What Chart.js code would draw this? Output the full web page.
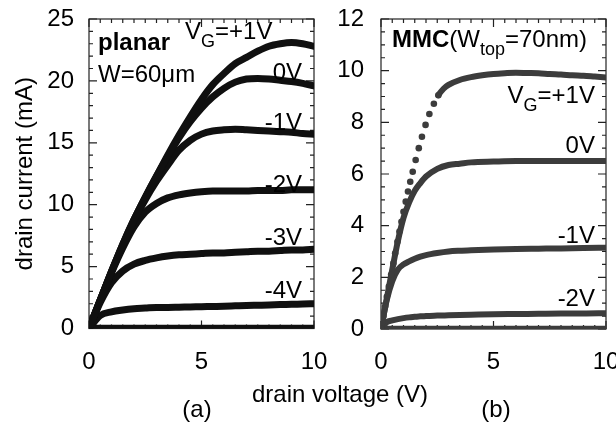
<!DOCTYPE html>
<html lang="en">
<head>
<meta charset="UTF-8">
<title>Drain current vs drain voltage</title>
<script src="https://cdn.jsdelivr.net/npm/chart.js"></script>
<style>
  body { margin: 0; background: #fff; }
  #wrap { position: relative; width: 616px; height: 426px; }
  canvas { position: absolute; left: 0; top: 0; }
</style>
</head>
<body>
<div id="wrap">
  <canvas id="chartA" width="616" height="426"></canvas>
  <canvas id="chartB" width="616" height="426"></canvas>
</div>
<script>
// (a) planar device, W = 60 um
const vA = [0, 0.5, 1, 1.5, 2, 2.5, 3, 3.5, 4, 4.5, 5, 5.5, 6, 6.5, 7, 7.5, 8, 8.5, 9, 9.5, 10];
const iA_p1 = [0, 2.3, 4.6, 6.8, 8.8, 10.6, 12.3, 14.0, 15.6, 17.1, 18.5, 19.7, 20.6, 21.4, 21.9, 22.4, 22.8, 23.0, 23.1, 23.0, 22.8];
const iA_0  = [0, 2.3, 4.6, 6.8, 8.8, 10.6, 12.3, 13.9, 15.4, 16.7, 17.8, 18.7, 19.4, 19.9, 20.15, 20.2, 20.15, 20.05, 19.95, 19.8, 19.6];
const iA_m1 = [0, 2.3, 4.6, 6.7, 8.7, 10.4, 11.9, 13.2, 14.4, 15.2, 15.7, 15.95, 16.05, 16.1, 16.05, 16.0, 15.95, 15.9, 15.85, 15.75, 15.7];
const iA_m2 = [0, 2.3, 4.5, 6.5, 8.2, 9.4, 10.1, 10.55, 10.8, 10.95, 11.05, 11.1, 11.1, 11.1, 11.1, 11.15, 11.15, 11.15, 11.2, 11.2, 11.2];
const iA_m3 = [0, 2.1, 3.7, 4.65, 5.2, 5.5, 5.7, 5.85, 5.95, 6.0, 6.05, 6.1, 6.1, 6.15, 6.2, 6.25, 6.25, 6.3, 6.35, 6.35, 6.4];
const iA_m4 = [0, 1.05, 1.35, 1.5, 1.6, 1.65, 1.7, 1.7, 1.72, 1.74, 1.76, 1.78, 1.8, 1.83, 1.86, 1.88, 1.9, 1.93, 1.95, 1.98, 2.0];
const iA_off = [0, 0, 0, 0, 0, 0, 0, 0, 0, 0, 0, 0, 0, 0, 0, 0, 0, 0, 0, 0, 0];

// (b) MMC device, W_top = 70 nm
const vB_p1 = [0, 0.1, 0.18, 0.26, 0.35, 0.45, 0.55, 0.63, 0.73, 0.82, 0.91, 1.0, 1.1, 1.2, 1.3, 1.41, 1.54, 1.68, 1.82, 1.98,
               2.15, 2.35, 2.55, 2.78, 3.0, 3.5, 4, 4.5, 5, 5.5, 6, 6.5, 7, 7.5, 8, 8.5, 9, 9.5, 10];
const iB_p1 = [0, 0.48, 0.86, 1.25, 1.64, 2.1, 2.54, 2.93, 3.38, 3.77, 4.15, 4.54, 4.93, 5.32, 5.7, 6.09, 6.54, 7.0, 7.44, 7.9,
               8.32, 8.72, 9.05, 9.3, 9.45, 9.64, 9.75, 9.82, 9.87, 9.9, 9.92, 9.91, 9.9, 9.87, 9.85, 9.82, 9.8, 9.77, 9.74];
const vB = [0, 0.25, 0.5, 0.75, 1, 1.25, 1.5, 1.75, 2, 2.5, 3, 3.5, 4, 5, 6, 7, 8, 9, 10];
const iB_0  = [0, 1.15, 2.3, 3.4, 4.3, 4.9, 5.35, 5.65, 5.9, 6.2, 6.35, 6.4, 6.45, 6.48, 6.5, 6.5, 6.5, 6.5, 6.5];
const iB_m1 = [0, 1.1, 1.85, 2.3, 2.5, 2.62, 2.72, 2.8, 2.86, 2.94, 3.0, 3.03, 3.05, 3.08, 3.1, 3.11, 3.12, 3.14, 3.15];
const iB_m2 = [0, 0.26, 0.33, 0.38, 0.42, 0.45, 0.47, 0.49, 0.5, 0.52, 0.53, 0.54, 0.55, 0.57, 0.58, 0.59, 0.6, 0.6, 0.61];
const iB_off = [0, 0, 0, 0, 0, 0, 0, 0, 0, 0, 0, 0, 0, 0, 0, 0, 0, 0, 0];

const FONT = "'Liberation Sans', Arial, sans-serif";
const INK_A = '#101010';
const INK_B = '#3c3c3c';
const SUB_DROP = 8;

Chart.defaults.font.family = FONT;
Chart.defaults.color = '#000';

function pts(xs, ys) {
  return xs.map((x, i) => ({ x: x, y: ys[i] }));
}

function curve(xs, ys, color, width) {
  return {
    data: pts(xs, ys),
    borderColor: color,
    borderWidth: width,
    pointRadius: 0,
    cubicInterpolationMode: 'monotone',
    borderCapStyle: 'round'
  };
}

// frame box with inward ticks on all four sides
const frameTicks = {
  id: 'frameTicks',
  beforeDatasetsDraw(chart, args, opts) {
    const { ctx, chartArea: a, scales: { x, y } } = chart;
    const isMajor = (v, step) => Math.abs(v / step - Math.round(v / step)) < 1e-6;
    ctx.save();
    ctx.strokeStyle = '#222';
    ctx.lineWidth = 1.2;
    ctx.strokeRect(a.left, a.top, a.right - a.left, a.bottom - a.top);
    ctx.beginPath();
    for (let v = x.min; v <= x.max + 1e-9; v += opts.xMinor) {
      const px = x.getPixelForValue(v);
      const len = isMajor(v, opts.xMajor) ? 8 : 4;
      ctx.moveTo(px, a.bottom); ctx.lineTo(px, a.bottom - len);
      ctx.moveTo(px, a.top); ctx.lineTo(px, a.top + len);
    }
    for (let v = y.min; v <= y.max + 1e-9; v += opts.yMinor) {
      const py = y.getPixelForValue(v);
      const len = isMajor(v, opts.yMajor) ? 8 : 4;
      ctx.moveTo(a.left, py); ctx.lineTo(a.left + len, py);
      ctx.moveTo(a.right, py); ctx.lineTo(a.right - len, py);
    }
    ctx.stroke();
    ctx.restore();
  }
};

// text labels placed in data coordinates
const annotate = {
  id: 'annotate',
  afterDatasetsDraw(chart, args, opts) {
    const { ctx, scales: { x, y } } = chart;
    const fontFor = k => k === 'b' ? 'bold 24px ' + FONT : (k === 'sub' ? '18px ' + FONT : '24px ' + FONT);
    ctx.save();
    ctx.fillStyle = '#000';
    ctx.textBaseline = 'alphabetic';
    ctx.textAlign = 'left';
    for (const lab of opts.items) {
      const px = x.getPixelForValue(lab.at[0]);
      const py = y.getPixelForValue(lab.at[1]);
      let w = 0;
      for (const [t, k] of lab.parts) { ctx.font = fontFor(k); w += ctx.measureText(t).width; }
      let cx = lab.align === 'right' ? px - w : px;
      for (const [t, k] of lab.parts) {
        ctx.font = fontFor(k);
        ctx.fillText(t, cx, py + (k === 'sub' ? SUB_DROP : 0));
        cx += ctx.measureText(t).width;
      }
    }
    ctx.restore();
  }
};

// figure level captions
const captions = {
  id: 'captions',
  afterDraw(chart) {
    const ctx = chart.ctx;
    ctx.save();
    ctx.fillStyle = '#000';
    ctx.font = '24px ' + FONT;
    ctx.textAlign = 'center';
    ctx.textBaseline = 'alphabetic';
    ctx.fillText('drain voltage (V)', 340, 402);
    ctx.fillText('(a)', 197, 417);
    ctx.fillText('(b)', 496, 417);
    ctx.restore();
  }
};

// tick labels may run past the plot edge, as in the original figure
function noEdgePadding(scale) {
  scale.paddingLeft = 0;
  scale.paddingRight = 0;
  scale.paddingTop = 0;
  scale.paddingBottom = 0;
}

function scalesFor(yMax, yStep, yPad, yTitle) {
  return {
    x: {
      type: 'linear', min: 0, max: 10,
      grid: { display: false }, border: { display: false },
      ticks: { stepSize: 5, padding: 11, font: { size: 24 }, maxRotation: 0 },
      afterFit: noEdgePadding
    },
    y: {
      type: 'linear', min: 0, max: yMax,
      grid: { display: false }, border: { display: false },
      ticks: { stepSize: yStep, padding: yPad, font: { size: 24 } },
      title: yTitle ? { display: true, text: yTitle, font: { size: 24 }, padding: { top: 0, bottom: 1 } } : { display: false },
      afterFit: noEdgePadding
    }
  };
}

// nudge layout padding until the plot area sits where it should
function fitArea(chart, target) {
  for (let k = 0; k < 4; k++) {
    const a = chart.chartArea;
    const p = chart.options.layout.padding;
    chart.options.layout.padding = {
      left: p.left + target.left - a.left,
      top: p.top + target.top - a.top,
      right: p.right + a.right - target.right,
      bottom: p.bottom + a.bottom - target.bottom
    };
    chart.update('none');
  }
}

const chartA = new Chart(document.getElementById('chartA'), {
  type: 'line',
  data: {
    datasets: [
      curve(vA, iA_p1, INK_A, 7),
      curve(vA, iA_0, INK_A, 7),
      curve(vA, iA_m1, INK_A, 7),
      curve(vA, iA_m2, INK_A, 7),
      curve(vA, iA_m3, INK_A, 7),
      curve(vA, iA_m4, INK_A, 7),
      curve(vA, iA_off, INK_A, 7.5)
    ]
  },
  options: {
    responsive: false,
    animation: false,
    layout: { autoPadding: false, padding: { left: 0, top: 19, right: 300, bottom: 50 } },
    scales: scalesFor(25, 5, 7, 'drain current (mA)'),
    plugins: {
      legend: { display: false },
      tooltip: { enabled: false },
      frameTicks: { xMinor: 0.5, xMajor: 5, yMinor: 1, yMajor: 5 },
      annotate: {
        items: [
          { at: [0.4, 22.5], align: 'left', parts: [['planar', 'b']] },
          { at: [0.4, 19.9], align: 'left', parts: [['W=60\u03bcm', 'n']] },
          { at: [4.27, 23.35], align: 'left', parts: [['V', 'n'], ['G', 'sub'], ['=+1V', 'n']] },
          { at: [9.47, 20.07], align: 'right', parts: [['0V', 'n']] },
          { at: [9.47, 16.03], align: 'right', parts: [['-1V', 'n']] },
          { at: [9.47, 11.03], align: 'right', parts: [['-2V', 'n']] },
          { at: [9.47, 6.74], align: 'right', parts: [['-3V', 'n']] },
          { at: [9.47, 2.46], align: 'right', parts: [['-4V', 'n']] }
        ]
      }
    }
  },
  plugins: [frameTicks, annotate, captions]
});

const dotsUntil = 2.6;
const plusB = curve(vB_p1, iB_p1, INK_B, 6);
plusB.pointRadius = ctx => (ctx.raw && ctx.raw.x <= dotsUntil ? 3.3 : 0);
plusB.pointBackgroundColor = INK_B;
plusB.pointBorderWidth = 0;
plusB.segment = { borderColor: ctx => (ctx.p0.parsed.x < dotsUntil - 0.1 ? 'rgba(0,0,0,0)' : INK_B) };

const chartB = new Chart(document.getElementById('chartB'), {
  type: 'line',
  data: {
    datasets: [
      plusB,
      curve(vB, iB_0, INK_B, 6),
      curve(vB, iB_m1, INK_B, 6),
      curve(vB, iB_m2, INK_B, 6),
      curve(vB, iB_off, INK_B, 6.5)
    ]
  },
  options: {
    responsive: false,
    animation: false,
    layout: { autoPadding: false, padding: { left: 320, top: 19, right: 10, bottom: 50 } },
    scales: scalesFor(12, 2, 9, null),
    plugins: {
      legend: { display: false },
      tooltip: { enabled: false },
      frameTicks: { xMinor: 0.5, xMajor: 5, yMinor: 0.5, yMajor: 2 },
      annotate: {
        items: [
          { at: [0.49, 10.92], align: 'left', parts: [['MMC', 'b'], ['(W', 'n'], ['top', 'sub'], ['=70nm)', 'n']] },
          { at: [9.51, 8.75], align: 'right', parts: [['V', 'n'], ['G', 'sub'], ['=+1V', 'n']] },
          { at: [9.51, 6.81], align: 'right', parts: [['0V', 'n']] },
          { at: [9.51, 3.33], align: 'right', parts: [['-1V', 'n']] },
          { at: [9.51, 0.89], align: 'right', parts: [['-2V', 'n']] }
        ]
      }
    }
  },
  plugins: [frameTicks, annotate]
});

fitArea(chartA, { left: 89, top: 19, right: 314, bottom: 328.5 });
fitArea(chartB, { left: 381, top: 19, right: 606, bottom: 329 });
</script>
</body>
</html>
